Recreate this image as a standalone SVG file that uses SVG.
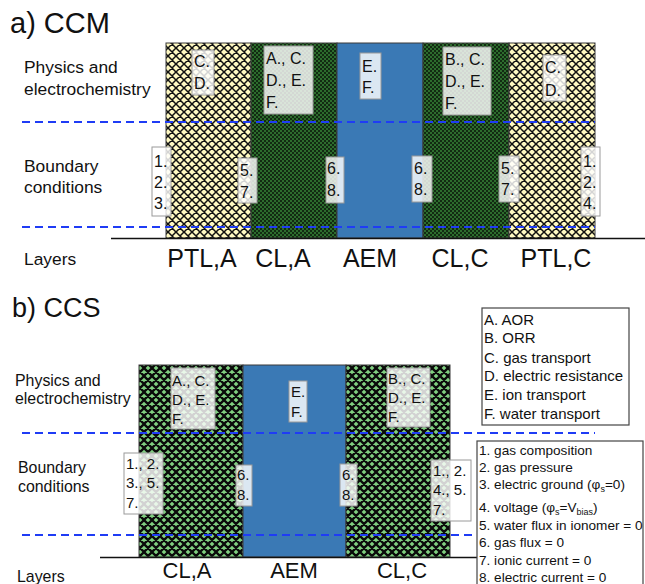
<svg xmlns="http://www.w3.org/2000/svg" width="645" height="584" viewBox="0 0 645 584">
<style>
text{font-family:"Liberation Sans",Arial,sans-serif;fill:#111}
.title{font-size:29px}
.row{font-size:17.4px}
.rowb{font-size:15.9px}
.lay{font-size:25px}
.layb{font-size:22px}
.bt{font-size:16px}
.btb{font-size:15px}
.leg{font-size:15px}
.leg2{font-size:13.6px}
.box{fill:#fff;fill-opacity:0.82;stroke:#9a9a9a;stroke-width:1}
.layer{stroke:#3a3a3a;stroke-width:1}
.dash{stroke:#1f3cf5;stroke-width:2;stroke-dasharray:8,5;fill:none}
.base{stroke:#111;stroke-width:1.5}
.lgbox{fill:#fff;stroke:#444;stroke-width:1.2}
</style>
<defs>
<pattern id="ptl" patternUnits="userSpaceOnUse" width="8" height="8">
<rect width="8" height="8" fill="#fff9c2"/>
<path d="M0,0L8,8M8,0L0,8M-1,7L1,9M7,-1L9,1M-1,1L1,-1M7,9L9,7" stroke="#111" stroke-width="1.5"/>
</pattern>
<pattern id="cla" patternUnits="userSpaceOnUse" width="4" height="4">
<rect width="4" height="4" fill="#2d6c2d"/>
<rect width="2" height="2" fill="#000" fill-opacity="0.6"/>
<rect x="2" y="2" width="2" height="2" fill="#000" fill-opacity="0.6"/>
</pattern>
<pattern id="clb" patternUnits="userSpaceOnUse" width="8" height="8">
<rect width="8" height="8" fill="#80cf80"/>
<path d="M0,0L8,8M8,0L0,8M-1,7L1,9M7,-1L9,1M-1,1L1,-1M7,9L9,7" stroke="#0a0a0a" stroke-width="2.3"/>
</pattern>
</defs>

<!-- ===== a) CCM ===== -->
<text class="title" x="10" y="33">a) CCM</text>
<g id="a-labels">
<text class="row" x="24" y="73">Physics and</text>
<text class="row" x="24" y="95">electrochemistry</text>
<text class="row" x="24" y="172">Boundary</text>
<text class="row" x="24" y="193">conditions</text>
<text class="row" x="24" y="265">Layers</text>
</g>

<g id="a-ptla">
<rect class="layer" x="166" y="43" width="85" height="195" fill="url(#ptl)"/>
<text class="lay" x="202" y="267" text-anchor="middle">PTL,A</text>
</g>
<g id="a-cla">
<rect class="layer" x="251" y="43" width="86" height="195" fill="url(#cla)"/>
<text class="lay" x="283" y="267" text-anchor="middle">CL,A</text>
</g>
<g id="a-aem">
<rect class="layer" x="337" y="43" width="86" height="195" fill="#3a79b5"/>
<text class="lay" x="370" y="267" text-anchor="middle">AEM</text>
</g>
<g id="a-clc">
<rect class="layer" x="423" y="43" width="86" height="195" fill="url(#cla)"/>
<text class="lay" x="460" y="267" text-anchor="middle">CL,C</text>
</g>
<g id="a-ptlc">
<rect class="layer" x="509" y="43" width="86" height="195" fill="url(#ptl)"/>
<text class="lay" x="556" y="267" text-anchor="middle">PTL,C</text>
</g>

<g id="a-connectors">
<line class="dash" x1="22" y1="122" x2="595" y2="122"/>
<line class="dash" x1="22" y1="227" x2="595" y2="227"/>
<line class="base" x1="111" y1="238.5" x2="645" y2="238.5"/>
</g>

<g id="a-box-ptla-phys">
<rect class="box" x="192" y="50" width="22" height="45"/>
<text class="bt" x="194" y="67">C.</text><text class="bt" x="194" y="89">D.</text>
</g>
<g id="a-box-cla-phys">
<rect class="box" x="264" y="46" width="49" height="68"/>
<text class="bt" x="266" y="64">A., C.</text><text class="bt" x="266" y="86">D., E.</text><text class="bt" x="266" y="108">F.</text>
</g>
<g id="a-box-aem-phys">
<rect class="box" x="360" y="53" width="21" height="46"/>
<text class="bt" x="362" y="72">E.</text><text class="bt" x="362" y="93">F.</text>
</g>
<g id="a-box-clc-phys">
<rect class="box" x="443" y="47" width="48" height="68"/>
<text class="bt" x="445" y="65">B., C.</text><text class="bt" x="445" y="87">D., E.</text><text class="bt" x="445" y="109">F.</text>
</g>
<g id="a-box-ptlc-phys">
<rect class="box" x="543" y="55" width="23" height="46"/>
<text class="bt" x="545" y="73">C.</text><text class="bt" x="545" y="96">D.</text>
</g>
<g id="a-bc-ptla">
<rect class="box" x="152" y="147" width="19" height="69"/>
<text class="bt" x="154" y="167">1.</text><text class="bt" x="154" y="188">2.</text><text class="bt" x="154" y="209">3.</text>
</g>
<g id="a-bc-cla">
<rect class="box" x="238" y="158" width="19" height="45"/>
<text class="bt" x="240" y="176">5.</text><text class="bt" x="240" y="198">7.</text>
</g>
<g id="a-bc-cla-aem">
<rect class="box" x="326" y="157" width="18" height="46"/>
<text class="bt" x="327" y="174">6.</text><text class="bt" x="327" y="196">8.</text>
</g>
<g id="a-bc-aem-clc">
<rect class="box" x="412" y="156" width="20" height="46"/>
<text class="bt" x="414" y="174">6.</text><text class="bt" x="414" y="195">8.</text>
</g>
<g id="a-bc-clc">
<rect class="box" x="499" y="156" width="20" height="46"/>
<text class="bt" x="501" y="174">5.</text><text class="bt" x="501" y="195">7.</text>
</g>
<g id="a-bc-ptlc">
<rect class="box" x="581" y="147" width="19" height="69"/>
<text class="bt" x="583" y="167">1.</text><text class="bt" x="583" y="188">2.</text><text class="bt" x="583" y="209">4.</text>
</g>

<!-- ===== b) CCS ===== -->
<text class="title" x="12" y="317" style="font-size:27px">b) CCS</text>
<g id="b-labels">
<text class="rowb" x="15" y="386">Physics and</text>
<text class="rowb" x="15" y="404">electrochemistry</text>
<text class="rowb" x="18" y="473">Boundary</text>
<text class="rowb" x="18" y="492">conditions</text>
<text class="rowb" x="17" y="582">Layers</text>
</g>

<g id="b-cla">
<rect class="layer" x="139" y="365" width="104" height="192" fill="url(#clb)"/>
<text class="layb" x="187" y="578" text-anchor="middle">CL,A</text>
</g>
<g id="b-aem">
<rect class="layer" x="243" y="365" width="103" height="192" fill="#3a79b5"/>
<text class="layb" x="294" y="578" text-anchor="middle">AEM</text>
</g>
<g id="b-clc">
<rect class="layer" x="346" y="365" width="104" height="192" fill="url(#clb)"/>
<text class="layb" x="402" y="578" text-anchor="middle">CL,C</text>
</g>

<g id="b-connectors">
<line class="dash" x1="22" y1="433" x2="595" y2="433"/>
<line class="dash" x1="22" y1="535" x2="478" y2="535"/>
<line class="base" x1="100" y1="557.5" x2="478" y2="557.5"/>
</g>

<g id="b-box-cla-phys">
<rect class="box" x="171" y="368" width="44" height="61"/>
<text class="btb" x="172" y="386">A., C.</text><text class="btb" x="172" y="405">D., E.</text><text class="btb" x="172" y="424">F.</text>
</g>
<g id="b-box-aem-phys">
<rect class="box" x="289" y="381" width="18" height="41"/>
<text class="btb" x="291" y="397">E.</text><text class="btb" x="291" y="417">F.</text>
</g>
<g id="b-box-clc-phys">
<rect class="box" x="387" y="368" width="43" height="59"/>
<text class="btb" x="388" y="384">B., C.</text><text class="btb" x="388" y="403">D., E.</text><text class="btb" x="388" y="422">F.</text>
</g>
<g id="b-bc-cla">
<rect class="box" x="124" y="453" width="39" height="61"/>
<text class="btb" x="126" y="469">1., 2.</text><text class="btb" x="126" y="488">3., 5.</text><text class="btb" x="126" y="508">7.</text>
</g>
<g id="b-bc-cla-aem">
<rect class="box" x="236" y="465" width="16" height="41"/>
<text class="btb" x="237" y="480">6.</text><text class="btb" x="237" y="500">8.</text>
</g>
<g id="b-bc-aem-clc">
<rect class="box" x="340" y="464" width="17" height="42"/>
<text class="btb" x="342" y="480">6.</text><text class="btb" x="342" y="500">8.</text>
</g>
<g id="b-bc-clc">
<rect class="box" x="431" y="460" width="40" height="61"/>
<text class="btb" x="433" y="476">1., 2.</text><text class="btb" x="433" y="495">4., 5.</text><text class="btb" x="433" y="515">7.</text>
</g>

<g id="legend-physics">
<rect class="lgbox" x="482" y="308" width="147" height="117"/>
<text class="leg" x="484" y="325">A. AOR</text>
<text class="leg" x="484" y="343">B. ORR</text>
<text class="leg" x="484" y="363">C. gas transport</text>
<text class="leg" x="484" y="381">D. electric resistance</text>
<text class="leg" x="484" y="400">E. ion transport</text>
<text class="leg" x="484" y="419">F. water transport</text>
</g>
<g id="legend-bc">
<rect class="lgbox" x="477" y="441" width="166" height="150"/>
<text class="leg2" x="479" y="455">1. gas composition</text>
<text class="leg2" x="479" y="472">2. gas pressure</text>
<text class="leg2" x="479" y="489">3. electric ground (φ<tspan font-size="9" dy="3">s</tspan><tspan dy="-3">=0)</tspan></text>
<text class="leg2" x="479" y="512">4. voltage (φ<tspan font-size="9" dy="3">s</tspan><tspan dy="-3">=V</tspan><tspan font-size="9" dy="3">bias</tspan><tspan dy="-3">)</tspan></text>
<text class="leg2" x="479" y="530">5. water flux in ionomer = 0</text>
<text class="leg2" x="479" y="547">6. gas flux = 0</text>
<text class="leg2" x="479" y="565">7. ionic current = 0</text>
<text class="leg2" x="479" y="582">8. electric current = 0</text>
</g>
</svg>
